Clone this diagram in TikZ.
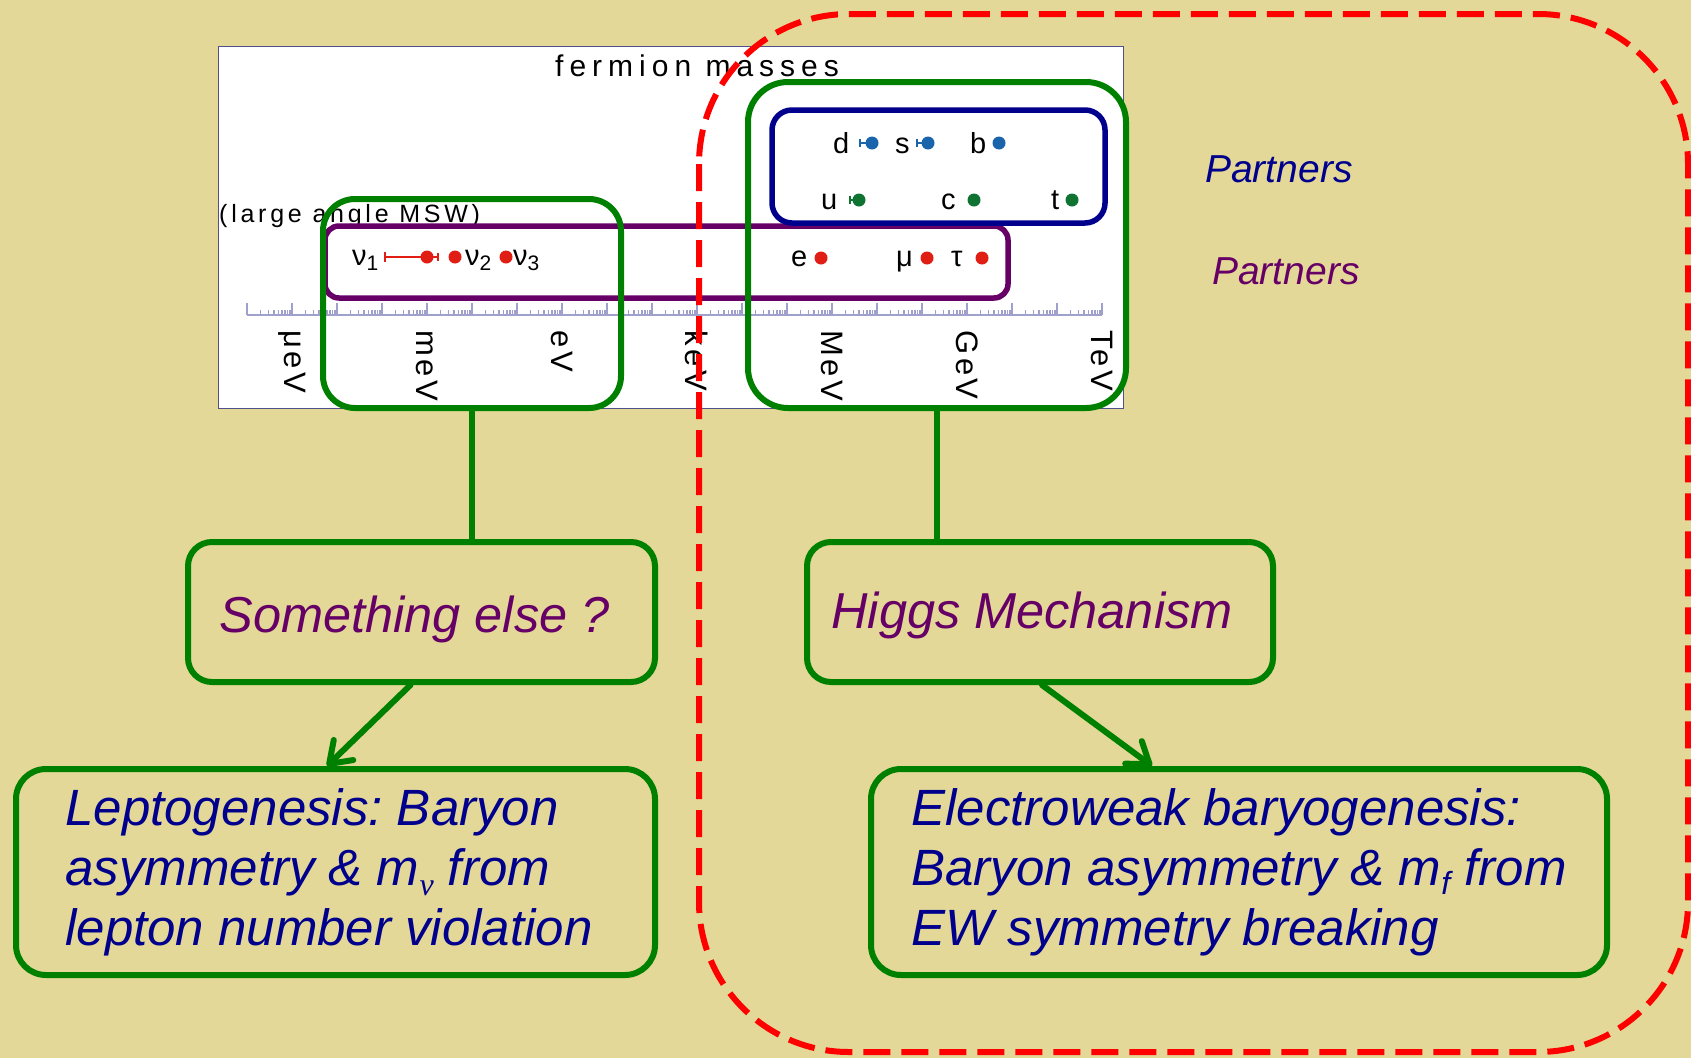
\documentclass[tikz,border=0pt]{standalone}
\usepackage{fontspec}
\setmainfont{Liberation Sans}
\newfontfamily\nufont{Liberation Serif}
\newfontfamily\spacedA[LetterSpace=20]{Liberation Sans}
\newfontfamily\spacedB[LetterSpace=15]{Liberation Sans}
\newfontfamily\spacedC[LetterSpace=12]{Liberation Sans}
\usetikzlibrary{arrows.meta,calc}
\definecolor{bg}{RGB}{227,216,151}
\definecolor{fgreen}{RGB}{0,128,0}
\definecolor{fpurple}{RGB}{102,0,102}
\definecolor{fnavy}{RGB}{0,0,140}
\definecolor{fred}{RGB}{255,0,0}
\definecolor{dotred}{RGB}{225,30,20}
\definecolor{dotblue}{RGB}{25,100,170}
\definecolor{dotgreen}{RGB}{15,115,50}
\definecolor{tickc}{RGB}{160,160,205}
\definecolor{plotborder}{RGB}{80,80,140}
\newcommand\nusub{\raisebox{-10pt}{\fontsize{32}{32}\selectfont\nufont\itshape ν}}
\newcommand\fsub{\raisebox{-9pt}{\fontsize{32}{32}\selectfont f}}
\newcommand\plab{\fontsize{29}{29}\selectfont}
\newcommand\psub[1]{\raisebox{-5pt}{\fontsize{21}{21}\selectfont #1}}
\newcommand\padr[1]{\rule{#1}{0pt}}
\frenchspacing
\tikzset{
  gbox/.style={draw=fgreen, line width=6pt, rounded corners=24pt, inner sep=0pt},
  plotgbox/.style={draw=fgreen, line width=6pt, rounded corners=32pt, inner sep=0pt},
  pbox/.style={draw=fpurple, line width=5.5pt, rounded corners=14pt, inner sep=0pt},
  bbox/.style={draw=fnavy, line width=5.5pt, rounded corners=20pt, inner sep=0pt},
  gline/.style={draw=fgreen, line width=6pt},
  garrow/.style={draw=fgreen, line width=6pt, line cap=round,
    -{Straight Barb[length=20pt, width=28pt, line cap=round, line join=round]}},
  purpletext/.style={text=fpurple, font={\itshape\fontsize{50.5}{60}\selectfont\frenchspacing}},
  navytext/.style={text=fnavy, font={\itshape\fontsize{51}{60}\selectfont\frenchspacing}, align=left},
  axlab/.style={rotate=-90, anchor=west, inner sep=0pt, font={\spacedC\fontsize{31}{31}\selectfont}},
  partlab/.style={anchor=base west, inner sep=0pt, font=\plab},
  tickline/.style={draw=tickc, line width=1.3pt},
}
\begin{document}
\begin{tikzpicture}[x=1pt,y=-1pt]
\fill[bg] (0,0) rectangle (1691,1058);
\useasboundingbox (0,0) rectangle (1691,1058);

% plot area
\fill[white] (218,46) rectangle (1123,408);
\draw[plotborder, line width=1pt] (218,46) rectangle (1123,408);
\node[anchor=base west, inner sep=0pt, font={\spacedA\fontsize{30}{30}\selectfont}] (title) at (555,76) {fermion masses};
\node[anchor=base west, inner sep=0pt, font={\spacedB\fontsize{25}{25}\selectfont}] (msw) at (219,222) {(large angle MSW)};

% axis
\draw[tickline] (247,315) -- (1102,315);
\foreach \k in {0,...,19} { \draw[tickline] ({247+45*\k},315) -- ++(0,-12); }
\foreach \k in {0,...,18} {
  \foreach \m in {2,...,9} {
    \draw[tickline] ({247+45*\k+45*log10(\m)},315) -- ++(0,-5);
  }
}
\foreach \lab/\xx [count=\i] in {μeV/292, meV/427, eV/562, keV/697, MeV/832, GeV/967, TeV/1102}
  \node[axlab] (ax\i) at (\xx,330) {\lab};

% neutrinos
\draw[dotred, line width=1.5pt] (385,257) -- (438,257);
\draw[dotred, line width=1.5pt] (385,252) -- (385,262);
\draw[dotred, line width=1.5pt] (438,253) -- (438,261);
\fill[dotred] (427,257) circle (6.5);
\fill[dotred] (455,257) circle (6.5);
\fill[dotred] (506,257) circle (6.5);
\node[partlab] (nu1) at (352,265) {ν\psub{1}};
\node[partlab] (nu2) at (465,265) {ν\psub{2}};
\node[partlab] (nu3) at (513,265) {ν\psub{3}};
% charged leptons
\node[partlab] (le) at (791,266) {e};
\fill[dotred] (821,258) circle (6.5);
\node[partlab] (lmu) at (896,266) {μ};
\fill[dotred] (927,258) circle (6.5);
\node[partlab] (ltau) at (951,266) {τ};
\fill[dotred] (982,258) circle (6.5);
% down quarks
\node[partlab] (qd) at (833,153) {d};
\draw[dotblue, line width=1.5pt] (860,143) -- (872,143);
\draw[dotblue, line width=1.5pt] (860,139) -- (860,147);
\fill[dotblue] (872,143) circle (6.5);
\node[partlab] (qs) at (895,153) {s};
\draw[dotblue, line width=1.5pt] (917,143) -- (928,143);
\draw[dotblue, line width=1.5pt] (917,139) -- (917,147);
\fill[dotblue] (928,143) circle (6.5);
\node[partlab] (qb) at (970,153) {b};
\fill[dotblue] (999,143) circle (6.5);
% up quarks
\node[partlab] (qu) at (821,209) {u};
\draw[dotgreen, line width=1.5pt] (850,200) -- (859,200);
\draw[dotgreen, line width=1.5pt] (850,196) -- (850,204);
\fill[dotgreen] (859,200) circle (6.5);
\node[partlab] (qc) at (941,209) {c};
\fill[dotgreen] (974,200) circle (6.5);
\node[partlab] (qt) at (1051,209) {t};
\fill[dotgreen] (1072,200) circle (6.5);

% boxes in the plot
\node[pbox, minimum width=683pt, minimum height=72pt] (leptons) at (666.5,262) {};
\node[plotgbox, minimum width=298pt, minimum height=209pt] (nugroup) at (472,303.5) {};
\node[bbox, minimum width=333pt, minimum height=113pt] (quarks) at (938.5,166.5) {};
\node[plotgbox, rounded corners=40pt, minimum width=378pt, minimum height=326pt] (chgroup) at (937,245) {};

% Partners labels
\node[anchor=base west, inner sep=0pt, text=fnavy, font={\itshape\fontsize{39}{39}\selectfont}] (partq) at (1205,182) {Partners};
\node[anchor=base west, inner sep=0pt, text=fpurple, font={\itshape\fontsize{39}{39}\selectfont}] (partl) at (1212,284) {Partners};

% lower boxes
\node[gbox, purpletext, minimum width=467pt, minimum height=140pt, text height=46pt, text depth=6pt] (else) at (421.5,612) {Something else ?\padr{14pt}};
\node[gbox, purpletext, minimum width=466pt, minimum height=140pt, text height=40pt, text depth=8pt] (higgs) at (1040,612) {Higgs Mechanism\padr{16pt}};
\node[gbox, navytext, rounded corners=30pt, minimum width=639pt, minimum height=206pt] (lepto) at (335.5,872)
  {Leptogenesis: Baryon\\asymmetry \& m\nusub{} from\\lepton number violation\padr{13pt}};
\node[gbox, navytext, rounded corners=30pt, minimum width=736pt, minimum height=206pt] (ew) at (1239,872)
  {Electroweak baryogenesis:\\Baryon asymmetry \& m\fsub{} from\\EW symmetry breaking};

% connectors
\draw[gline] (nugroup.south) -- (nugroup.south |- else.north);
\draw[gline] (chgroup.south) -- (chgroup.south |- higgs.north);
\draw[garrow] ($(else.south)+(-11,0)$) -- ($(lepto.north)+(-8.5,0)$);
\draw[garrow] ($(higgs.south)+(2,0)$) -- ($(ew.north)+(-87,0)$);

% red dashed region
\draw[fred, line width=6pt, dash pattern=on 27pt off 11pt, rounded corners=150pt] (699,14) rectangle (1688,1052);
\end{tikzpicture}
\end{document}
